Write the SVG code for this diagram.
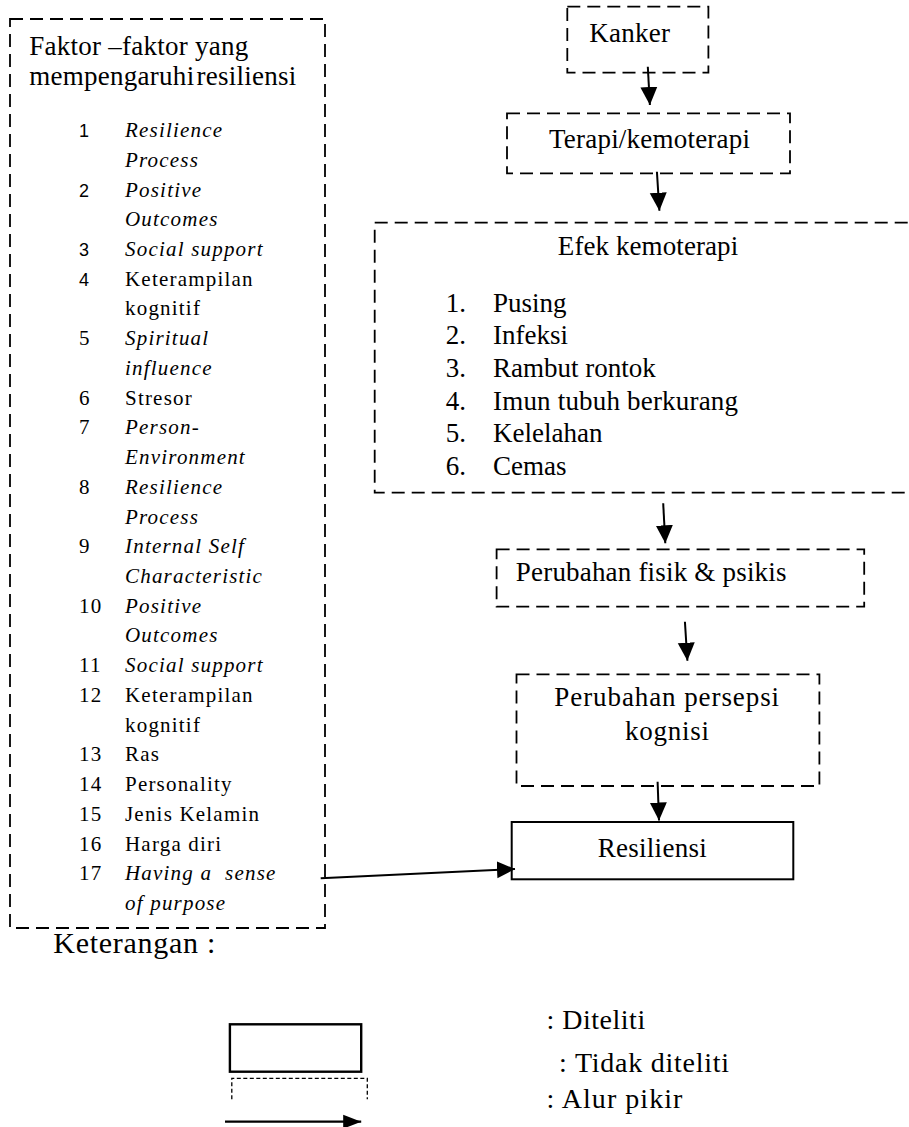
<svg xmlns="http://www.w3.org/2000/svg" width="909" height="1127" viewBox="0 0 909 1127">
<defs>
<style>
.t{font-family:"Liberation Serif","Times New Roman",serif;fill:#000}
.f27{font-size:27px}
.f21{font-size:21px;letter-spacing:1.2px}
.f28{font-size:28px}
.i{font-style:italic}
.n{font-family:"Liberation Sans",Arial,sans-serif;font-size:18px;fill:#000}
.d{fill:none;stroke:#000;stroke-width:1.8;stroke-dasharray:13 7}
.s{fill:none;stroke:#000;stroke-width:2}
.c{stroke:#000;stroke-width:2;fill:none}
</style>
<marker id="ah" markerUnits="userSpaceOnUse" markerWidth="20" markerHeight="20" viewBox="0 0 20 20" refX="18" refY="10" orient="auto"><path d="M0,1.5 L18,10 L0,18.5 Z" fill="#000"/></marker>
<marker id="ah2" markerUnits="userSpaceOnUse" markerWidth="20" markerHeight="16" viewBox="0 0 20 16" refX="18" refY="8" orient="auto"><path d="M0,1 L18,8 L0,15 Z" fill="#000"/></marker>
</defs>

<g id="faktor">
<rect class="d" x="10" y="19" width="315" height="909"/>
<text class="t" x="29.3" y="55" font-size="27" textLength="219" lengthAdjust="spacing">Faktor –faktor yang</text>
<text class="t" x="29.3" y="85" font-size="27" style="word-spacing:-5px" textLength="267" lengthAdjust="spacing">mempengaruhi resiliensi</text>
<text class="n" x="79" y="137">1</text>
<text class="t f21 i" x="125" y="137">Resilience</text>
<text class="t f21 i" x="125" y="166.7">Process</text>
<text class="n" x="79" y="196.5">2</text>
<text class="t f21 i" x="125" y="196.5">Positive</text>
<text class="t f21 i" x="125" y="226.2">Outcomes</text>
<text class="n" x="79" y="255.9">3</text>
<text class="t f21 i" x="125" y="255.9">Social support</text>
<text class="n" x="79" y="285.7">4</text>
<text class="t f21" x="125" y="285.7">Keterampilan</text>
<text class="t f21" x="125" y="315.4">kognitif</text>
<text class="t f21" x="79" y="345.1">5</text>
<text class="t f21 i" x="125" y="345.1">Spiritual</text>
<text class="t f21 i" x="125" y="374.8">influence</text>
<text class="t f21" x="79" y="404.6">6</text>
<text class="t f21" x="125" y="404.6">Stresor</text>
<text class="t f21" x="79" y="434.3">7</text>
<text class="t f21 i" x="125" y="434.3">Person-</text>
<text class="t f21 i" x="125" y="464">Environment</text>
<text class="t f21" x="79" y="493.8">8</text>
<text class="t f21 i" x="125" y="493.8">Resilience</text>
<text class="t f21 i" x="125" y="523.5">Process</text>
<text class="t f21" x="79" y="553.2">9</text>
<text class="t f21 i" x="125" y="553.2">Internal Self</text>
<text class="t f21 i" x="125" y="583">Characteristic</text>
<text class="t f21" x="79" y="612.7">10</text>
<text class="t f21 i" x="125" y="612.7">Positive</text>
<text class="t f21 i" x="125" y="642.4">Outcomes</text>
<text class="t f21" x="79" y="672.1">11</text>
<text class="t f21 i" x="125" y="672.1">Social support</text>
<text class="t f21" x="79" y="701.9">12</text>
<text class="t f21" x="125" y="701.9">Keterampilan</text>
<text class="t f21" x="125" y="731.6">kognitif</text>
<text class="t f21" x="79" y="761.3">13</text>
<text class="t f21" x="125" y="761.3">Ras</text>
<text class="t f21" x="79" y="791">14</text>
<text class="t f21" x="125" y="791">Personality</text>
<text class="t f21" x="79" y="820.8">15</text>
<text class="t f21" x="125" y="820.8">Jenis Kelamin</text>
<text class="t f21" x="79" y="850.5">16</text>
<text class="t f21" x="125" y="850.5">Harga diri</text>
<text class="t f21" x="79" y="880.2">17</text>
<text class="t f21 i" x="125" y="880.2" xml:space="preserve">Having a  sense</text>
<text class="t f21 i" x="125" y="910">of purpose</text>
</g>

<g id="kanker">
<rect class="d" x="567.3" y="6.7" width="141.1" height="66"/>
<text class="t f27" x="589.3" y="41.7" textLength="80.6" lengthAdjust="spacing">Kanker</text>
</g>

<g id="terapi">
<rect class="d" x="507" y="113.3" width="283" height="60"/>
<text class="t f27" x="549" y="148.3" textLength="201" lengthAdjust="spacing">Terapi/kemoterapi</text>
</g>

<g id="efek">
<rect class="d" x="374.7" y="222.7" width="560" height="270"/>
<text class="t f27" x="557.8" y="255" textLength="180.4" lengthAdjust="spacing">Efek kemoterapi</text>
<text class="t f27" x="445.8" y="311.5">1.</text>
<text class="t f27" x="493" y="311.5">Pusing</text>
<text class="t f27" x="445.8" y="344.2">2.</text>
<text class="t f27" x="493" y="344.2">Infeksi</text>
<text class="t f27" x="445.8" y="376.9">3.</text>
<text class="t f27" x="493" y="376.9">Rambut rontok</text>
<text class="t f27" x="445.8" y="409.6">4.</text>
<text class="t f27" x="493" y="409.6" textLength="245" lengthAdjust="spacing">Imun tubuh berkurang</text>
<text class="t f27" x="445.8" y="442.3">5.</text>
<text class="t f27" x="493" y="442.3">Kelelahan</text>
<text class="t f27" x="445.8" y="475">6.</text>
<text class="t f27" x="493" y="475">Cemas</text>
</g>

<g id="fisik">
<rect class="d" x="496.6" y="549.3" width="367.6" height="57.4"/>
<text class="t f27" x="515.8" y="580.7" textLength="270.7" lengthAdjust="spacing">Perubahan fisik &amp; psikis</text>
</g>

<g id="persepsi">
<rect class="d" x="516.5" y="674.3" width="302.9" height="111.7"/>
<text class="t f27" x="554.3" y="706" textLength="224.8" lengthAdjust="spacing">Perubahan persepsi</text>
<text class="t f27" x="625" y="740" textLength="84" lengthAdjust="spacing">kognisi</text>
</g>

<g id="resiliensi">
<rect class="s" x="511.7" y="822" width="281.6" height="57.3"/>
<text class="t f27" x="597.7" y="856.7" textLength="109" lengthAdjust="spacing">Resiliensi</text>
</g>

<g id="connectors">
<line class="c" x1="647.8" y1="66.7" x2="649.9" y2="105" marker-end="url(#ah)"/>
<line class="c" x1="656.9" y1="171.7" x2="659.4" y2="210.7" marker-end="url(#ah)"/>
<line class="c" x1="663.2" y1="503.3" x2="665.3" y2="543.3" marker-end="url(#ah)"/>
<line class="c" x1="684.9" y1="621.7" x2="687.4" y2="660.7" marker-end="url(#ah)"/>
<line class="c" x1="657.6" y1="781.7" x2="659" y2="820.5" marker-end="url(#ah)"/>
<line class="c" x1="320.7" y1="878.3" x2="515" y2="869" marker-end="url(#ah)"/>
</g>

<g id="legend">
<text class="t" x="53.3" y="953" font-size="30" textLength="162" lengthAdjust="spacing">Keterangan :</text>
<rect x="229.9" y="1024.3" width="131.3" height="47.4" fill="none" stroke="#000" stroke-width="2.4"/>
<path d="M231.8,1099.3 V1078.3 H367.3 V1099.3" fill="none" stroke="#000" stroke-width="1.3" stroke-dasharray="4 2.5"/>
<line x1="225" y1="1121.7" x2="361.2" y2="1121.7" stroke="#000" stroke-width="2.2" marker-end="url(#ah2)"/>
<text class="t f28" x="546.4" y="1029.3" textLength="98.8" lengthAdjust="spacing">: Diteliti</text>
<text class="t f28" x="559.1" y="1071.7" textLength="170" lengthAdjust="spacing">: Tidak diteliti</text>
<text class="t f28" x="546.4" y="1108.3" textLength="136" lengthAdjust="spacing">: Alur pikir</text>
</g>
</svg>
